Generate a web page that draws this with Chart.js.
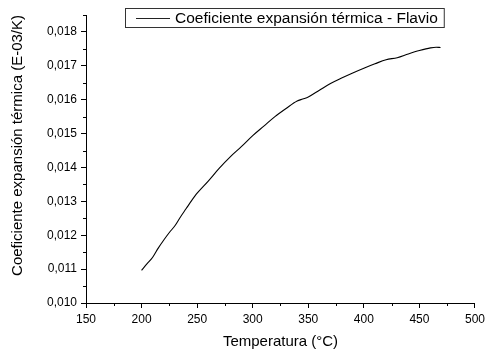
<!DOCTYPE html>
<html><head><meta charset="utf-8">
<script src="https://cdn.jsdelivr.net/npm/chart.js@4"></script>
<style>html,body{margin:0;padding:0;background:#fff}canvas{display:block}</style>
</head><body>
<canvas id="c" width="489" height="352"></canvas>
<script>
const temperatures = [200,205,210,215,220,225,230,235,240,245,250,260,270,280,290,300,310,320,330,340,345,350,360,370,380,390,400,410,420,430,440,450,460,465,469];
const coefficients = [0.01096,0.01116,0.01135,0.01162,0.01186,0.01208,0.01228,0.01254,0.01278,0.01302,0.01324,0.01360,0.01398,0.01432,0.01462,0.01494,0.01522,0.01550,0.01574,0.01596,0.01602,0.01608,0.01628,0.01648,0.01664,0.01679,0.01693,0.01706,0.01718,0.01724,0.01735,0.01745,0.01753,0.01755,0.01754];
const seriesLabel = 'Coeficiente expansión térmica - Flavio';
const xTitle = 'Temperatura (°C)';
const yTitle = 'Coeficiente expansión térmica (E-03/K)';
const xMajorTicks = [150,200,250,300,350,400,450,500];
const xTickLabels = ['150','200','250','300','350','400','450','500'];
const xMinorTicks = [175,225,275,325,375,425,475];
const yMajorTicks = [0.010,0.011,0.012,0.013,0.014,0.015,0.016,0.017,0.018];
const yTickLabels = ['0,010','0,011','0,012','0,013','0,014','0,015','0,016','0,017','0,018'];
const yMinorTicks = [0.0105,0.0115,0.0125,0.0135,0.0145,0.0155,0.0165,0.0175,0.0185];

const FONT = 'Arial, "Liberation Sans", sans-serif';
Chart.defaults.color = '#000';
Chart.defaults.font.family = FONT;

const minorTicks = {
  id: 'minorTicks',
  afterDraw(chart) {
    const {ctx, chartArea, scales} = chart;
    ctx.save();
    ctx.strokeStyle = '#000';
    ctx.lineWidth = 1;
    ctx.beginPath();
    xMinorTicks.forEach(v => {
      const px = Math.round(scales.x.getPixelForValue(v)) + 0.5;
      ctx.moveTo(px, chartArea.bottom);
      ctx.lineTo(px, chartArea.bottom + 3);
    });
    yMinorTicks.forEach(v => {
      const py = Math.round(scales.y.getPixelForValue(v)) + 0.5;
      ctx.moveTo(chartArea.left, py);
      ctx.lineTo(chartArea.left - 3, py);
    });
    ctx.stroke();
    ctx.restore();
  }
};

const boxedLegend = {
  id: 'boxedLegend',
  afterDraw(chart) {
    const {ctx, chartArea} = chart;
    const label = chart.data.datasets[0].label;
    ctx.save();
    ctx.font = '15.5px ' + FONT;
    const tw = ctx.measureText(label).width;
    const left = chartArea.left + 39, top = 8;
    const w = 50 + tw + 6, h = 19;
    ctx.fillStyle = '#fff';
    ctx.fillRect(left, top, w, h);
    ctx.strokeStyle = '#333';
    ctx.lineWidth = 1;
    ctx.strokeRect(left + 0.5, top + 0.5, w, h);
    ctx.beginPath();
    ctx.moveTo(left + 11, top + 10.5);
    ctx.lineTo(left + 45, top + 10.5);
    ctx.strokeStyle = '#222';
    ctx.stroke();
    ctx.fillStyle = '#000';
    ctx.textBaseline = 'middle';
    ctx.textAlign = 'left';
    ctx.fillText(label, left + 50, top + 10.5);
    ctx.restore();
  }
};

new Chart(document.getElementById('c'), {
  type: 'line',
  data: {
    datasets: [{
      label: seriesLabel,
      data: temperatures.map((t, i) => ({x: t, y: coefficients[i]})),
      borderColor: '#000',
      borderWidth: 1.1,
      pointRadius: 0,
      fill: false,
      cubicInterpolationMode: 'monotone'
    }]
  },
  options: {
    responsive: false,
    animation: false,
    layout: {padding: {top: 15, right: 10, left: 0, bottom: 0}},
    plugins: {legend: {display: false}, tooltip: {enabled: false}},
    scales: {
      x: {
        type: 'linear',
        position: 'bottom',
        min: 150, max: 500,
        afterBuildTicks: s => { s.ticks = xMajorTicks.map(v => ({value: v})); },
        afterFit: s => { s.height = 49; },
        ticks: {
          autoSkip: false, maxRotation: 0, padding: 4,
          font: {size: 12},
          callback: (v, i) => xTickLabels[i]
        },
        grid: {drawOnChartArea: false, drawTicks: true, tickLength: 5, tickColor: '#000', tickWidth: 1},
        border: {display: true, color: '#000', width: 1},
        title: {display: true, text: xTitle, font: {size: 15}, padding: {top: 0, bottom: 1.5}}
      },
      y: {
        type: 'linear',
        position: 'left',
        min: 0.010, max: 0.0185,
        afterBuildTicks: s => { s.ticks = yMajorTicks.map(v => ({value: v})); },
        afterFit: s => { s.width = 86; },
        ticks: {
          autoSkip: false, padding: 4,
          font: {size: 12},
          callback: (v, i) => yTickLabels[i]
        },
        grid: {drawOnChartArea: false, drawTicks: true, tickLength: 5, tickColor: '#000', tickWidth: 1},
        border: {display: true, color: '#000', width: 1},
        title: {display: true, text: yTitle, align: 'end', font: {size: 15}, padding: {top: 8.5, bottom: 0}}
      }
    }
  },
  plugins: [minorTicks, boxedLegend]
});
</script>
</body></html>
